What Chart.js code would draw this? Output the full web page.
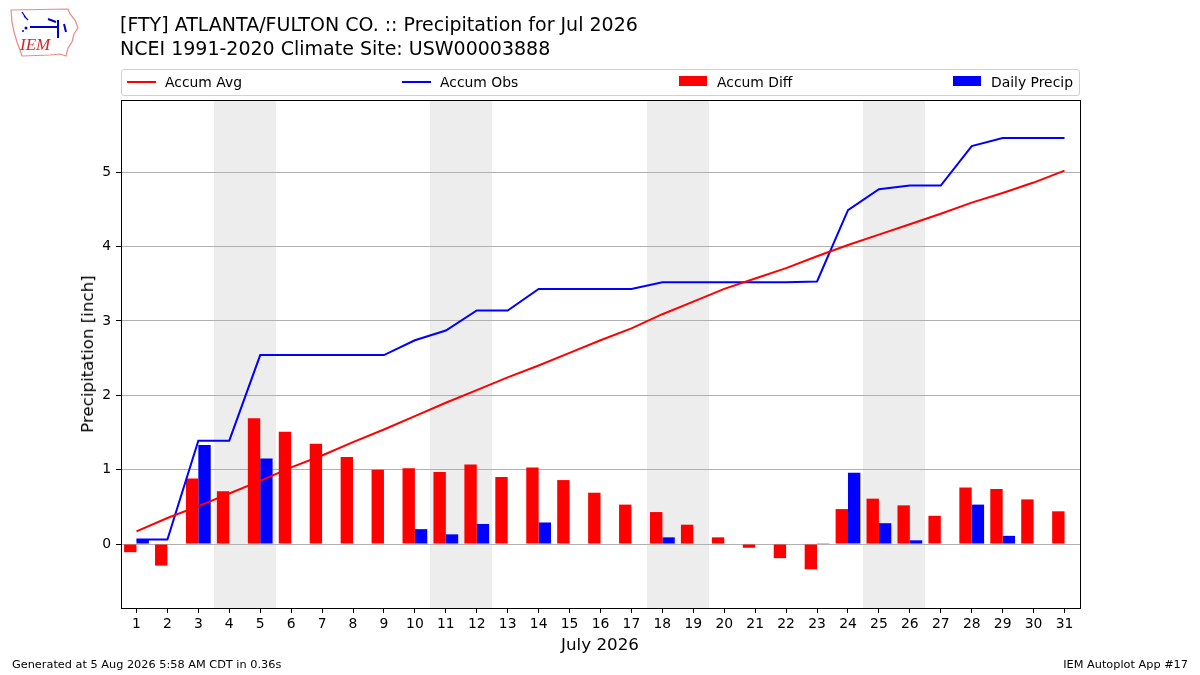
<!DOCTYPE html>
<html>
<head>
<meta charset="utf-8">
<script src="https://cdn.jsdelivr.net/npm/chart.js@4.4.1/dist/chart.umd.min.js"></script>
<style>
  html, body { margin:0; padding:0; background:#fff; }
  #wrap { position:relative; width:1200px; height:675px; font-family:"DejaVu Sans", sans-serif; color:#000; }
  #c { position:absolute; left:0; top:0; }
  .t { position:absolute; white-space:nowrap; }
  #legend { position:absolute; left:121px; top:69px; width:957px; height:25px; border:1px solid #d0d0d0; border-radius:3px; background:#fff; font-size:13.9px; }
  .li { position:absolute; top:0; height:25px; line-height:24px; }
  .sw-line { position:absolute; top:11px; width:29px; height:2px; }
  .sw-box { position:absolute; top:6px; width:28px; height:10px; }
</style>
</head>
<body>
<div id="wrap">
  <canvas id="c" width="1200" height="675"></canvas>
  <svg class="t" style="left:8px;top:6px" width="74" height="54" viewBox="0 0 74 54">
    <path d="M3 4 L60 3 L62 8 L67 14 L70 22 L66 28 L64 36 L60 42 L58 50 L52 48 L42 49 L14 50 L12 44 L9 36 L6 26 L4 16 Z" fill="none" stroke="#e88" stroke-width="1.2"/>
    <path d="M14 6 L18 12 M16 10 L20 14" stroke="#0000cc" stroke-width="1.3" fill="none"/>
    <path d="M22 21 L50 21 M50 14 L50 32 M40 13 L48 16 M56 18 L58 26" stroke="#0000cc" stroke-width="2" fill="none"/>
    <circle cx="18" cy="22" r="1.5" fill="#0000cc"/><circle cx="15" cy="25" r="1" fill="#0000cc"/>
    <text x="12" y="44" font-family="Liberation Serif, serif" font-style="italic" font-size="17" fill="#dd2222">IEM</text>
  </svg>
  <div class="t" style="left:120px;top:12px;font-size:19px;line-height:24px">[FTY] ATLANTA/FULTON CO. :: Precipitation for Jul 2026</div>
  <div class="t" style="left:120px;top:36px;font-size:19px;line-height:24px">NCEI 1991-2020 Climate Site: USW00003888</div>
  <div id="legend">
    <div class="sw-line" style="left:5px;background:#ff0000"></div><div class="li" style="left:43px">Accum Avg</div>
    <div class="sw-line" style="left:280px;background:#0000ff"></div><div class="li" style="left:318px">Accum Obs</div>
    <div class="sw-box" style="left:557px;background:#ff0000"></div><div class="li" style="left:595px">Accum Diff</div>
    <div class="sw-box" style="left:831px;background:#0000ff"></div><div class="li" style="left:869px">Daily Precip</div>
  </div>
  <div class="t" style="left:87px;top:354px;font-size:16.7px;transform:translate(-50%,-50%) rotate(-90deg)">Precipitation [inch]</div>
  <div class="t" style="left:600px;top:644px;font-size:16.7px;transform:translate(-50%,-50%)">July 2026</div>
  <div class="t" style="left:12px;top:658px;font-size:11.3px">Generated at 5 Aug 2026 5:58 AM CDT in 0.36s</div>
  <div class="t" style="right:12px;top:658px;font-size:11.3px">IEM Autoplot App #17</div>
</div>
<script>
const days = Array.from({length:31}, (_, i) => String(i + 1));
const accumAvg = [0.17,0.35,0.51,0.68,0.85,1.03,1.19,1.37,1.54,1.72,1.90,2.07,2.24,2.40,2.57,2.74,2.90,3.09,3.26,3.43,3.57,3.71,3.87,4.02,4.16,4.30,4.44,4.59,4.72,4.86,5.02];
const accumObs = [0.06,0.06,1.39,1.39,2.54,2.54,2.54,2.54,2.54,2.74,2.87,3.14,3.14,3.43,3.43,3.43,3.43,3.52,3.52,3.52,3.52,3.52,3.53,4.49,4.77,4.82,4.82,5.35,5.46,5.46,5.46];
const accumDiff = [-0.11,-0.29,0.88,0.71,1.69,1.51,1.35,1.17,1.00,1.02,0.97,1.07,0.90,1.03,0.86,0.69,0.53,0.43,0.26,0.09,-0.05,-0.19,-0.34,0.47,0.61,0.52,0.38,0.76,0.74,0.60,0.44];
const dailyPrecip = [0.06,0,1.33,0,1.15,0,0,0,0,0.20,0.13,0.27,0,0.29,0,0,0,0.09,0,0,0,0,0.01,0.96,0.28,0.05,0,0.53,0.11,0,0];
const weekendDays = [4,5,11,12,18,19,25,26];
const yTicks = [0,1,2,3,4,5];

const frameAndShade = {
  id: 'frameAndShade',
  beforeDraw(chart) {
    const ctx = chart.ctx, a = chart.chartArea, x = chart.scales.x;
    ctx.save();
    ctx.fillStyle = '#ffffff';
    ctx.fillRect(0, 0, chart.width, chart.height);
    ctx.fillStyle = '#ededed';
    const step = x.getPixelForValue(1) - x.getPixelForValue(0);
    weekendDays.forEach(d => {
      const c = x.getPixelForValue(d - 1);
      const l = Math.round(c - step / 2), r = Math.round(c + step / 2);
      ctx.fillRect(l, a.top, r - l, a.bottom - a.top);
    });
    ctx.restore();
  },
  afterDraw(chart) {
    const ctx = chart.ctx, a = chart.chartArea;
    ctx.save();
    ctx.strokeStyle = '#000';
    ctx.lineWidth = 1;
    ctx.strokeRect(Math.round(a.left) + 0.5, Math.round(a.top) + 0.5, Math.round(a.right - a.left), Math.round(a.bottom - a.top));
    ctx.restore();
  }
};

new Chart(document.getElementById('c'), {
  data: {
    labels: days,
    datasets: [
      { type:'line', label:'Accum Avg', data:accumAvg, borderColor:'#ff0000', borderWidth:2, pointRadius:0, tension:0, order:0 },
      { type:'line', label:'Accum Obs', data:accumObs, borderColor:'#0000ff', borderWidth:2, pointRadius:0, tension:0, order:0 },
      { type:'bar', label:'Accum Diff', data:accumDiff, backgroundColor:'#ff0000', categoryPercentage:0.8, barPercentage:1.0, order:1 },
      { type:'bar', label:'Daily Precip', data:dailyPrecip, backgroundColor:'#0000ff', categoryPercentage:0.8, barPercentage:1.0, order:1 }
    ]
  },
  plugins: [frameAndShade],
  options: {
    responsive:false,
    animation:false,
    devicePixelRatio:1,
    layout: { padding: { left:0, right:120, top:100, bottom:0 } },
    plugins: { legend:{ display:false }, tooltip:{ enabled:false } },
    scales: {
      x: {
        type:'category',
        offset:true,
        grid:{ offset:false, drawOnChartArea:false, tickLength:5, tickColor:'#000', tickWidth:1 },
        border:{ color:'#000' },
        ticks:{ color:'#000', font:{ family:'DejaVu Sans', size:13.9 }, padding:3, maxRotation:0, autoSkip:false },
        afterFit(s) { s.height = 67; }
      },
      y: {
        type:'linear',
        min:-0.86, max:5.97,
        afterBuildTicks(s) { s.ticks = yTicks.map(v => ({ value:v })); },
        grid:{ color:'#b0b0b0', lineWidth:1, tickLength:5, tickColor:'#000' },
        border:{ color:'#000' },
        ticks:{ color:'#000', font:{ family:'DejaVu Sans', size:13.9 }, padding:5 },
        afterFit(s) { s.width = 121; }
      }
    }
  }
});
</script>
</body>
</html>
